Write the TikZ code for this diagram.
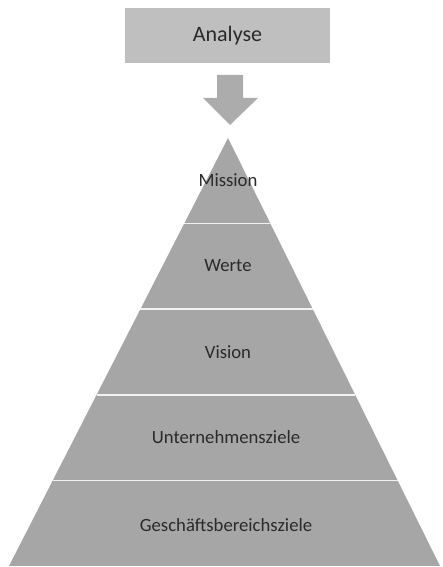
\documentclass[tikz,border=0pt]{standalone}
\usepackage{fontspec}
\setmainfont{Carlito}
\usepackage{xcolor}
\usetikzlibrary{calc}
\definecolor{boxgray}{HTML}{BFBFBF}
\definecolor{pyrgray}{HTML}{A6A6A6}
\definecolor{arrowgray}{HTML}{ACACAC}
\definecolor{textgray}{HTML}{2A2A2A}
\tikzset{
  tier/.style={text=textgray, font=\fontsize{18.7}{22}\selectfont},
  sep/.style={draw=white!85!pyrgray, line width=1.6pt}
}

\begin{document}
\begin{tikzpicture}[x=1pt, y=1pt]
\useasboundingbox (0,0) rectangle (442,567);
% Analyse box
\fill[boxgray] (125,504) rectangle (330,559);
\node[text=textgray, font=\fontsize{22}{26}\selectfont] (analyse) at (227.5,531) {Analyse};
% block arrow
\fill[arrowgray] (217,492) -- (243,492) -- (243,469) -- (258,469) -- (230,442) -- (203,469) -- (217,469) -- cycle;
% pyramid
\coordinate (apex) at (228,429);
\coordinate (bl) at (9,1);
\coordinate (br) at (440,1);
\fill[pyrgray] (apex) -- (bl) -- (br) -- cycle;
\draw[sep] ($(apex)!0.2!(bl)$) -- ($(apex)!0.2!(br)$);
\draw[sep] ($(apex)!0.4!(bl)$) -- ($(apex)!0.4!(br)$);
\draw[sep] ($(apex)!0.6!(bl)$) -- ($(apex)!0.6!(br)$);
\draw[sep] ($(apex)!0.8!(bl)$) -- ($(apex)!0.8!(br)$);
\node[tier] (mission) at (228,387) {Mission};
\node[tier] (werte) at (228,301) {Werte};
\node[tier] (vision) at (228,215) {Vision};
\node[tier] (ziele) at (226,130) {Unternehmensziele};
\node[tier] (bereiche) at (226,42) {Geschäftsbereichsziele};
\end{tikzpicture}
\end{document}
